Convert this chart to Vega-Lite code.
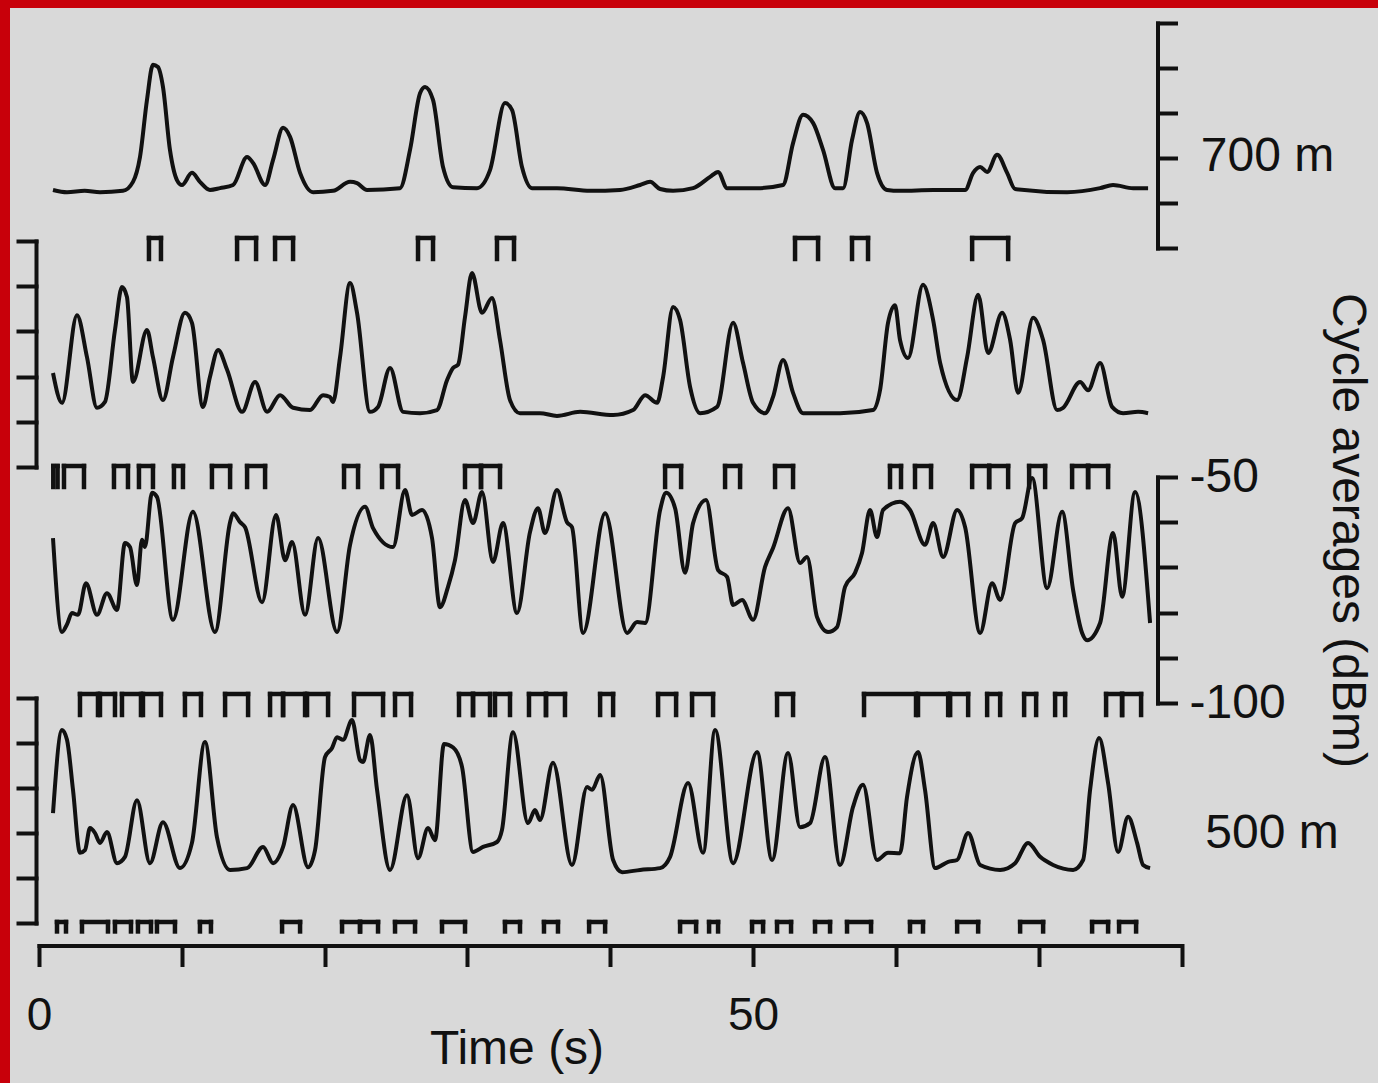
{
 "$schema": "https://vega.github.io/schema/vega-lite/v6.json",
 "autosize": {"type": "none"},
 "padding": {"left": 10, "top": 8, "right": 0, "bottom": 0},
 "width": 1368,
 "height": 1075,
 "background": "#c8000a",
 "config": {
  "view": {"fill": "#d9d9d9", "stroke": null},
  "axis": {"grid": false, "domainColor": "#111", "tickColor": "#111", "domainWidth": 4, "tickWidth": 4, "labelColor": "#111", "titleColor": "#111", "labelFont": "Liberation Sans", "titleFont": "Liberation Sans", "titleFontWeight": "normal", "labelFontSize": 48, "titleFontSize": 48, "domainCap": "square", "tickCap": "square"}
 },
 "datasets": {
  "trace1": [
   {"t":0.98,"v":-87.1},{"t":1.96,"v":-87.6},{"t":3.2,"v":-87.3},{"t":4.27,"v":-87.6},{"t":5.88,"v":-87.3},{"t":6.58,"v":-85.3},{"t":7.07,"v":-79.8},{"t":7.56,"v":-67.1},{"t":7.98,"v":-59.3},{"t":8.33,"v":-59.8},{"t":8.68,"v":-64.2},{"t":9.17,"v":-78.2},{"t":9.66,"v":-84.9},{"t":10.01,"v":-86.0},{"t":10.71,"v":-83.3},{"t":11.27,"v":-85.3},{"t":11.97,"v":-87.1},{"t":12.68,"v":-86.7},{"t":13.59,"v":-86.0},{"t":14.57,"v":-79.8},{"t":14.99,"v":-81.1},{"t":15.83,"v":-86.0},{"t":16.39,"v":-80.4},{"t":17.09,"v":-73.3},{"t":17.58,"v":-75.3},{"t":18.28,"v":-83.3},{"t":19.19,"v":-87.6},{"t":20.59,"v":-87.3},{"t":21.78,"v":-85.3},{"t":22.27,"v":-85.6},{"t":22.97,"v":-87.1},{"t":25.28,"v":-86.7},{"t":25.98,"v":-78.2},{"t":26.68,"v":-65.6},{"t":27.03,"v":-64.2},{"t":27.59,"v":-67.1},{"t":28.29,"v":-82.0},{"t":28.99,"v":-86.5},{"t":30.67,"v":-86.7},{"t":31.58,"v":-82.7},{"t":32.63,"v":-67.8},{"t":33.12,"v":-69.3},{"t":33.82,"v":-82.0},{"t":34.52,"v":-86.7},{"t":36.27,"v":-86.7},{"t":38.59,"v":-87.3},{"t":40.69,"v":-87.1},{"t":42.09,"v":-86.0},{"t":42.79,"v":-85.3},{"t":43.49,"v":-86.9},{"t":44.40,"v":-87.3},{"t":45.80,"v":-86.7},{"t":46.99,"v":-84.2},{"t":47.55,"v":-83.1},{"t":48.18,"v":-86.7},{"t":50.28,"v":-86.7},{"t":52.10,"v":-86.0},{"t":52.80,"v":-76.7},{"t":53.50,"v":-70.4},{"t":54.20,"v":-72.2},{"t":54.90,"v":-78.2},{"t":55.74,"v":-86.7},{"t":56.30,"v":-86.7},{"t":56.93,"v":-76.0},{"t":57.49,"v":-69.8},{"t":57.98,"v":-72.2},{"t":58.68,"v":-83.3},{"t":59.38,"v":-87.1},{"t":60.29,"v":-87.3},{"t":62.61,"v":-87.1},{"t":64.85,"v":-87.1},{"t":65.41,"v":-83.3},{"t":65.90,"v":-82.0},{"t":66.39,"v":-83.1},{"t":67.09,"v":-79.3},{"t":67.79,"v":-83.3},{"t":68.35,"v":-86.9},{"t":71.99,"v":-87.6},{"t":74.30,"v":-86.7},{"t":75.21,"v":-86.0},{"t":76.61,"v":-86.7},{"t":77.66,"v":-86.7}
  ],
  "trace2": [
   {"t":0.98,"v":-79.2},{"t":1.61,"v":-85.8},{"t":2.66,"v":-66.4},{"t":3.36,"v":-75.7},{"t":4.06,"v":-86.9},{"t":4.62,"v":-85.6},{"t":5.32,"v":-69.7},{"t":5.81,"v":-60.2},{"t":6.16,"v":-62.4},{"t":6.58,"v":-81.2},{"t":7.56,"v":-69.7},{"t":7.98,"v":-75.7},{"t":8.68,"v":-85.2},{"t":9.38,"v":-75.7},{"t":10.22,"v":-65.9},{"t":10.71,"v":-68.1},{"t":11.48,"v":-86.7},{"t":11.97,"v":-80.1},{"t":12.54,"v":-74.1},{"t":13.17,"v":-78.5},{"t":14.22,"v":-87.8},{"t":15.13,"v":-81.2},{"t":15.97,"v":-87.8},{"t":16.88,"v":-84.1},{"t":17.79,"v":-86.9},{"t":18.98,"v":-87.4},{"t":19.89,"v":-84.1},{"t":20.38,"v":-84.5},{"t":20.59,"v":-85.6},{"t":21.08,"v":-75.7},{"t":21.78,"v":-59.3},{"t":22.27,"v":-65.9},{"t":23.18,"v":-87.8},{"t":23.74,"v":-86.7},{"t":24.58,"v":-78.1},{"t":25.49,"v":-87.8},{"t":26.68,"v":-88.1},{"t":27.87,"v":-87.4},{"t":28.57,"v":-80.8},{"t":28.99,"v":-78.1},{"t":29.34,"v":-77.4},{"t":29.83,"v":-66.8},{"t":30.32,"v":-57.1},{"t":31.02,"v":-65.9},{"t":31.72,"v":-62.6},{"t":32.28,"v":-71.9},{"t":32.98,"v":-85.2},{"t":33.68,"v":-88.1},{"t":35.08,"v":-88.1},{"t":36.27,"v":-88.7},{"t":37.89,"v":-87.8},{"t":40.20,"v":-88.5},{"t":41.60,"v":-87.4},{"t":42.44,"v":-84.1},{"t":43.28,"v":-85.8},{"t":43.70,"v":-80.1},{"t":44.40,"v":-64.6},{"t":44.89,"v":-67.5},{"t":45.59,"v":-82.3},{"t":46.29,"v":-88.1},{"t":47.48,"v":-86.7},{"t":48.60,"v":-68.1},{"t":49.30,"v":-77.0},{"t":50.00,"v":-85.8},{"t":50.84,"v":-88.1},{"t":51.40,"v":-84.5},{"t":52.10,"v":-76.3},{"t":52.80,"v":-83.6},{"t":53.50,"v":-88.1},{"t":56.09,"v":-88.1},{"t":58.40,"v":-87.4},{"t":58.89,"v":-83.0},{"t":59.45,"v":-68.1},{"t":59.94,"v":-64.2},{"t":60.29,"v":-71.9},{"t":60.85,"v":-75.9},{"t":61.90,"v":-59.7},{"t":62.61,"v":-67.5},{"t":63.10,"v":-77.0},{"t":64.29,"v":-85.2},{"t":64.99,"v":-75.7},{"t":65.76,"v":-61.9},{"t":66.46,"v":-74.8},{"t":67.44,"v":-65.9},{"t":68.00,"v":-71.9},{"t":68.56,"v":-83.6},{"t":69.61,"v":-67.0},{"t":70.31,"v":-71.9},{"t":71.29,"v":-87.4},{"t":71.71,"v":-86.9},{"t":72.90,"v":-81.2},{"t":73.46,"v":-83.0},{"t":74.30,"v":-77.0},{"t":75.14,"v":-86.7},{"t":75.91,"v":-88.1},{"t":76.96,"v":-87.8},{"t":77.66,"v":-88.1}
  ],
  "trace3": [
   {"t":0.98,"v":-63.5},{"t":1.61,"v":-84.3},{"t":1.96,"v":-82.6},{"t":2.31,"v":-80.1},{"t":2.73,"v":-80.5},{"t":3.29,"v":-73.5},{"t":4.06,"v":-80.5},{"t":4.76,"v":-75.7},{"t":5.46,"v":-79.4},{"t":6.02,"v":-64.6},{"t":6.37,"v":-65.5},{"t":6.86,"v":-73.9},{"t":7.21,"v":-63.9},{"t":7.42,"v":-65.5},{"t":7.91,"v":-53.5},{"t":8.26,"v":-54.4},{"t":9.38,"v":-81.6},{"t":10.78,"v":-57.7},{"t":12.32,"v":-84.3},{"t":13.38,"v":-60.0},{"t":13.59,"v":-58.0},{"t":14.08,"v":-60.0},{"t":14.43,"v":-61.1},{"t":15.62,"v":-77.7},{"t":16.60,"v":-58.4},{"t":17.23,"v":-68.4},{"t":17.72,"v":-64.4},{"t":18.63,"v":-80.5},{"t":19.54,"v":-63.5},{"t":20.87,"v":-84.3},{"t":21.78,"v":-65.0},{"t":22.83,"v":-56.6},{"t":23.39,"v":-61.3},{"t":24.79,"v":-65.5},{"t":25.63,"v":-52.9},{"t":26.12,"v":-58.4},{"t":26.82,"v":-57.3},{"t":27.52,"v":-63.5},{"t":28.08,"v":-78.8},{"t":28.64,"v":-74.3},{"t":29.13,"v":-68.4},{"t":29.83,"v":-55.1},{"t":30.39,"v":-60.2},{"t":31.02,"v":-53.3},{"t":31.79,"v":-68.8},{"t":32.49,"v":-60.2},{"t":33.47,"v":-80.1},{"t":34.38,"v":-62.2},{"t":34.94,"v":-56.9},{"t":35.43,"v":-62.4},{"t":36.27,"v":-52.9},{"t":36.97,"v":-60.0},{"t":37.32,"v":-61.1},{"t":38.10,"v":-84.5},{"t":39.64,"v":-58.0},{"t":41.18,"v":-84.5},{"t":41.88,"v":-82.1},{"t":42.44,"v":-82.3},{"t":43.49,"v":-57.3},{"t":43.91,"v":-53.5},{"t":44.54,"v":-56.9},{"t":45.24,"v":-71.2},{"t":45.80,"v":-60.2},{"t":46.71,"v":-55.1},{"t":47.55,"v":-70.6},{"t":48.18,"v":-72.1},{"t":48.60,"v":-78.3},{"t":49.23,"v":-77.2},{"t":50.00,"v":-81.6},{"t":50.84,"v":-69.9},{"t":51.40,"v":-65.7},{"t":52.45,"v":-56.9},{"t":53.29,"v":-69.0},{"t":53.78,"v":-67.7},{"t":54.48,"v":-81.0},{"t":55.25,"v":-84.3},{"t":55.88,"v":-83.2},{"t":56.44,"v":-74.3},{"t":57.14,"v":-71.2},{"t":57.63,"v":-66.8},{"t":58.19,"v":-57.3},{"t":58.68,"v":-63.3},{"t":59.10,"v":-57.3},{"t":60.29,"v":-55.5},{"t":60.99,"v":-57.3},{"t":62.04,"v":-65.0},{"t":62.61,"v":-60.2},{"t":63.31,"v":-67.7},{"t":64.29,"v":-57.3},{"t":64.85,"v":-61.1},{"t":65.90,"v":-84.5},{"t":66.74,"v":-73.5},{"t":67.30,"v":-77.2},{"t":68.35,"v":-60.2},{"t":68.84,"v":-59.1},{"t":69.54,"v":-50.2},{"t":70.59,"v":-74.6},{"t":71.64,"v":-57.7},{"t":72.41,"v":-75.0},{"t":73.04,"v":-84.5},{"t":73.39,"v":-86.1},{"t":74.30,"v":-82.3},{"t":75.21,"v":-62.4},{"t":75.84,"v":-76.5},{"t":76.75,"v":-53.3},{"t":77.80,"v":-82.3}
  ],
  "trace4": [
   {"t":0.98,"v":-75.6},{"t":1.61,"v":-57.1},{"t":1.96,"v":-59.3},{"t":2.38,"v":-70.4},{"t":2.87,"v":-84.4},{"t":3.22,"v":-83.8},{"t":3.57,"v":-78.9},{"t":3.92,"v":-80.0},{"t":4.27,"v":-82.2},{"t":4.76,"v":-79.8},{"t":5.46,"v":-86.7},{"t":6.02,"v":-85.3},{"t":6.86,"v":-72.7},{"t":7.77,"v":-86.7},{"t":8.68,"v":-77.6},{"t":9.87,"v":-87.8},{"t":10.71,"v":-82.2},{"t":11.62,"v":-59.8},{"t":12.46,"v":-80.9},{"t":13.38,"v":-88.2},{"t":14.57,"v":-87.8},{"t":15.69,"v":-83.1},{"t":16.39,"v":-86.7},{"t":17.09,"v":-83.1},{"t":17.79,"v":-73.8},{"t":18.84,"v":-87.6},{"t":19.33,"v":-83.8},{"t":20.03,"v":-63.1},{"t":20.52,"v":-61.1},{"t":20.87,"v":-58.7},{"t":21.29,"v":-59.3},{"t":21.92,"v":-54.9},{"t":22.48,"v":-63.8},{"t":22.69,"v":-64.2},{"t":23.18,"v":-58.2},{"t":23.67,"v":-70.4},{"t":24.58,"v":-88.2},{"t":25.77,"v":-71.6},{"t":26.54,"v":-85.6},{"t":27.24,"v":-78.9},{"t":27.73,"v":-81.6},{"t":28.36,"v":-60.2},{"t":29.0,"v":-61.0},{"t":29.62,"v":-65.3},{"t":30.39,"v":-84.2},{"t":31.09,"v":-83.1},{"t":32.07,"v":-82.0},{"t":32.42,"v":-79.3},{"t":33.19,"v":-57.6},{"t":34.24,"v":-77.8},{"t":34.73,"v":-74.9},{"t":35.08,"v":-77.1},{"t":35.99,"v":-64.4},{"t":37.32,"v":-87.1},{"t":38.38,"v":-69.8},{"t":38.73,"v":-70.4},{"t":39.29,"v":-67.1},{"t":40.20,"v":-86.0},{"t":40.83,"v":-88.7},{"t":42.09,"v":-88.2},{"t":43.49,"v":-87.8},{"t":44.19,"v":-85.3},{"t":45.45,"v":-68.9},{"t":46.50,"v":-84.4},{"t":47.34,"v":-57.1},{"t":48.60,"v":-86.7},{"t":50.28,"v":-62.0},{"t":51.33,"v":-86.0},{"t":52.45,"v":-62.2},{"t":53.29,"v":-78.7},{"t":53.99,"v":-77.8},{"t":55.04,"v":-63.1},{"t":56.09,"v":-87.1},{"t":57.00,"v":-74.2},{"t":57.70,"v":-69.3},{"t":58.68,"v":-86.0},{"t":59.45,"v":-84.4},{"t":60.29,"v":-84.5},{"t":60.78,"v":-72.0},{"t":61.55,"v":-62.0},{"t":62.04,"v":-70.4},{"t":62.75,"v":-87.8},{"t":63.66,"v":-86.4},{"t":64.29,"v":-86.0},{"t":65.06,"v":-80.0},{"t":65.90,"v":-87.1},{"t":67.30,"v":-88.2},{"t":68.35,"v":-86.7},{"t":69.26,"v":-82.2},{"t":70.10,"v":-85.3},{"t":71.01,"v":-87.1},{"t":72.41,"v":-88.2},{"t":73.11,"v":-86.0},{"t":73.60,"v":-70.4},{"t":74.23,"v":-58.9},{"t":74.86,"v":-68.9},{"t":75.56,"v":-84.2},{"t":76.26,"v":-76.4},{"t":76.89,"v":-82.2},{"t":77.31,"v":-87.1},{"t":77.80,"v":-87.8}
  ],
  "pulses": [
   {"row":"trace1","t":7.70,"end":8.54},{"row":"trace1","t":13.87,"end":15.20},{"row":"trace1","t":16.53,"end":17.79},{"row":"trace1","t":26.54,"end":27.59},{"row":"trace1","t":32.07,"end":33.26},{"row":"trace1","t":52.94,"end":54.55},{"row":"trace1","t":56.93,"end":58.05},{"row":"trace1","t":65.34,"end":67.86},
   {"row":"trace2","t":1.0,"end":1.3},{"row":"trace2","t":1.75,"end":3.15},{"row":"trace2","t":5.25,"end":6.23},{"row":"trace2","t":7.00,"end":7.98},{"row":"trace2","t":9.45,"end":10.08},{"row":"trace2","t":12.11,"end":13.38},{"row":"trace2","t":14.57,"end":15.83},{"row":"trace2","t":21.36,"end":22.34},{"row":"trace2","t":24.02,"end":25.14},{"row":"trace2","t":29.83,"end":30.95},{"row":"trace2","t":30.95,"end":32.28},{"row":"trace2","t":43.84,"end":44.96},{"row":"trace2","t":48.04,"end":49.09},{"row":"trace2","t":51.54,"end":52.80},{"row":"trace2","t":59.59,"end":60.36},{"row":"trace2","t":61.34,"end":62.46},{"row":"trace2","t":65.34,"end":66.53},{"row":"trace2","t":66.53,"end":67.86},{"row":"trace2","t":69.33,"end":70.45},{"row":"trace2","t":72.34,"end":73.46},{"row":"trace2","t":73.46,"end":74.86},
   {"row":"trace3","t":2.87,"end":4.13},{"row":"trace3","t":4.27,"end":5.32},{"row":"trace3","t":5.81,"end":7.14},{"row":"trace3","t":7.28,"end":8.54},{"row":"trace3","t":10.22,"end":11.34},{"row":"trace3","t":13.03,"end":14.64},{"row":"trace3","t":16.18,"end":17.09},{"row":"trace3","t":17.09,"end":18.63},{"row":"trace3","t":18.77,"end":20.24},{"row":"trace3","t":22.06,"end":24.09},{"row":"trace3","t":24.93,"end":26.05},{"row":"trace3","t":29.41,"end":30.39},{"row":"trace3","t":30.39,"end":31.58},{"row":"trace3","t":31.93,"end":32.98},{"row":"trace3","t":34.31,"end":35.50},{"row":"trace3","t":35.50,"end":36.83},{"row":"trace3","t":39.29,"end":40.20},{"row":"trace3","t":43.35,"end":44.61},{"row":"trace3","t":45.73,"end":47.20},{"row":"trace3","t":51.68,"end":52.80},{"row":"trace3","t":57.77,"end":61.41},{"row":"trace3","t":61.55,"end":63.66},{"row":"trace3","t":63.80,"end":65.06},{"row":"trace3","t":66.39,"end":67.30},{"row":"trace3","t":68.98,"end":69.82},{"row":"trace3","t":71.15,"end":71.85},{"row":"trace3","t":74.72,"end":75.84},{"row":"trace3","t":75.84,"end":77.17},
   {"row":"trace4","t":1.26,"end":1.89},{"row":"trace4","t":3.01,"end":4.83},{"row":"trace4","t":5.32,"end":6.44},{"row":"trace4","t":6.93,"end":7.84},{"row":"trace4","t":8.26,"end":9.52},{"row":"trace4","t":11.27,"end":12.04},{"row":"trace4","t":17.02,"end":18.28},{"row":"trace4","t":21.22,"end":22.48},{"row":"trace4","t":22.48,"end":23.74},{"row":"trace4","t":24.93,"end":26.33},{"row":"trace4","t":28.22,"end":29.83},{"row":"trace4","t":32.63,"end":33.68},{"row":"trace4","t":35.36,"end":36.34},{"row":"trace4","t":38.52,"end":39.64},{"row":"trace4","t":44.89,"end":46.01},{"row":"trace4","t":46.92,"end":47.55},{"row":"trace4","t":49.93,"end":50.70},{"row":"trace4","t":51.68,"end":52.66},{"row":"trace4","t":54.34,"end":55.39},{"row":"trace4","t":56.58,"end":58.26},{"row":"trace4","t":60.99,"end":61.90},{"row":"trace4","t":64.29,"end":65.76},{"row":"trace4","t":68.70,"end":70.31},{"row":"trace4","t":73.74,"end":74.86},{"row":"trace4","t":75.63,"end":76.82}
  ]
 },
 "encoding": {
  "x": {"field": "t", "type": "quantitative", "scale": {"domain": [0, 80], "range": [29, 1171.5], "nice": false, "zero": false},
   "axis": {"orient": "bottom", "offset": -137.5, "values": [0,10,20,30,40,50,60,70,80], "tickSize": 19, "labelExpr": "datum.value == 0 || datum.value == 50 ? datum.label : ''", "labelFlush": false, "labelOverlap": false, "labelBaseline": "top", "labelPadding": 29, "labelFontSize": 46, "title": "Time (s)", "titleX": 506.5, "titleY": 117.5, "titleAlign": "center", "titleBaseline": "alphabetic"}}
 },
 "resolve": {"scale": {"y": "independent"}, "axis": {"y": "independent"}},
 "layer": [
  {
   "data": {"name": "trace1"},
   "mark": {"type": "line", "color": "#111", "strokeWidth": 4, "interpolate": "monotone", "strokeJoin": "round"},
   "encoding": {
    "y": {"field": "v", "type": "quantitative", "scale": {"domain": [-100, -50], "range": [240, 15], "nice": false, "zero": false},
     "axis": {"orient": "right", "offset": -220.5, "values": [-100,-90,-80,-70,-60,-50], "tickSize": 18, "labels": false, "title": "700 m", "titleAngle": 0, "titleX": 109.5, "titleY": 162, "titleAlign": "center", "titleBaseline": "alphabetic"}}
   }
  },
  {
   "data": {"name": "trace2"},
   "mark": {"type": "line", "color": "#111", "strokeWidth": 4, "interpolate": "monotone", "strokeJoin": "round"},
   "encoding": {
    "y": {"field": "v", "type": "quantitative", "scale": {"domain": [-100, -50], "range": [459, 233], "nice": false, "zero": false},
     "axis": {"orient": "left", "offset": -26, "values": [-100,-90,-80,-70,-60,-50], "tickSize": 18, "labels": false, "title": null}}
   }
  },
  {
   "data": {"name": "trace3"},
   "mark": {"type": "line", "color": "#111", "strokeWidth": 4, "interpolate": "monotone", "strokeJoin": "round"},
   "encoding": {
    "y": {"field": "v", "type": "quantitative", "scale": {"domain": [-100, -50], "range": [695, 469], "nice": false, "zero": false},
     "axis": {"orient": "right", "offset": -220.5, "values": [-100,-90,-80,-70,-60,-50], "tickSize": 18, "labelExpr": "datum.value == -50 ? '-50' : datum.value == -100 ? '-100' : ''", "labelPadding": 13.5, "labelAlign": "left", "labelBaseline": "middle", "labelOverlap": false, "labelBound": false, "labelFlush": false, "title": "Cycle averages (dBm)", "titleAngle": 90, "titleX": 174.5, "titleY": 522, "titleAlign": "center", "titleBaseline": "alphabetic"}}
   }
  },
  {
   "data": {"name": "trace4"},
   "mark": {"type": "line", "color": "#111", "strokeWidth": 4, "interpolate": "monotone", "strokeJoin": "round"},
   "encoding": {
    "y": {"field": "v", "type": "quantitative", "scale": {"domain": [-100, -50], "range": [915, 690], "nice": false, "zero": false},
     "axis": {"orient": "left", "offset": -26, "values": [-100,-90,-80,-70,-60,-50], "tickSize": 18, "labels": false, "title": "500 m", "titleAngle": 0, "titleX": 1235.5, "titleY": 839, "titleAlign": "center", "titleBaseline": "alphabetic"}}
   }
  },
  {
   "data": {"name": "pulses"},
   "encoding": {
    "y": {"field": "row", "type": "nominal", "bandPosition": 0, "scale": {"type": "band", "domain": ["trace1","trace2","trace3","trace4"], "range": [230, 935], "paddingInner": 0.9079, "paddingOuter": 0}, "axis": null}
   },
   "layer": [
    {"mark": {"type": "rule", "color": "#111", "strokeWidth": 4.5, "strokeCap": "square"}, "encoding": {"x2": {"field": "end"}}},
    {"transform": [{"filter": "datum.row != 'trace4'"}], "mark": {"type": "rule", "color": "#111", "strokeWidth": 4.5, "strokeCap": "square"}, "encoding": {"y2": {"field": "row", "bandPosition": 1}}},
    {"transform": [{"filter": "datum.row == 'trace4'"}], "mark": {"type": "rule", "color": "#111", "strokeWidth": 4.5, "strokeCap": "square"}, "encoding": {"y2": {"field": "row", "bandPosition": 0.45}}},
    {"transform": [{"filter": "datum.row != 'trace4'"}], "mark": {"type": "rule", "color": "#111", "strokeWidth": 4.5, "strokeCap": "square"}, "encoding": {
      "x": {"field": "end", "type": "quantitative", "scale": {"domain": [0, 80], "range": [29, 1171.5], "nice": false, "zero": false},
       "axis": {"orient": "bottom", "offset": -137.5, "values": [0,10,20,30,40,50,60,70,80], "tickSize": 19, "labelExpr": "datum.value == 0 || datum.value == 50 ? datum.label : ''", "labelFlush": false, "labelOverlap": false, "labelBaseline": "top", "labelPadding": 29, "labelFontSize": 46, "title": "Time (s)", "titleX": 506.5, "titleY": 117.5, "titleAlign": "center", "titleBaseline": "alphabetic"}},
      "y2": {"field": "row", "bandPosition": 1}}},
    {"transform": [{"filter": "datum.row == 'trace4'"}], "mark": {"type": "rule", "color": "#111", "strokeWidth": 4.5, "strokeCap": "square"}, "encoding": {
      "x": {"field": "end", "type": "quantitative", "scale": {"domain": [0, 80], "range": [29, 1171.5], "nice": false, "zero": false},
       "axis": {"orient": "bottom", "offset": -137.5, "values": [0,10,20,30,40,50,60,70,80], "tickSize": 19, "labelExpr": "datum.value == 0 || datum.value == 50 ? datum.label : ''", "labelFlush": false, "labelOverlap": false, "labelBaseline": "top", "labelPadding": 29, "labelFontSize": 46, "title": "Time (s)", "titleX": 506.5, "titleY": 117.5, "titleAlign": "center", "titleBaseline": "alphabetic"}},
      "y2": {"field": "row", "bandPosition": 0.45}}}
   ]
  }
 ]
}
